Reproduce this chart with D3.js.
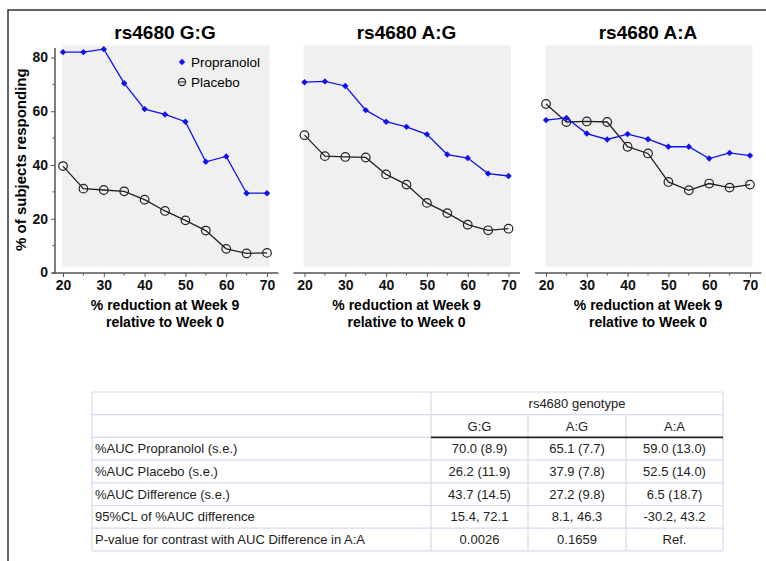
<!DOCTYPE html>
<html>
<head>
<meta charset="utf-8">
<script src="https://cdn.jsdelivr.net/npm/d3@7"></script>
<style>
  body { margin: 0; background: #fff; }
  svg { display: block; font-family: "Liberation Sans", Arial, sans-serif; }
</style>
</head>
<body>
<script>
// data
let thresholds = [20, 25, 30, 35, 40, 45, 50, 55, 60, 65, 70];
let genotypes = ["rs4680 G:G", "rs4680 A:G", "rs4680 A:A"];

let propGG = [82, 82, 83.1, 70.4, 60.8, 58.8, 56.1, 41.2, 43.2, 29.5, 29.5];
let placGG = [39.6, 31.2, 30.7, 30.2, 27.1, 22.9, 19.4, 15.6, 8.8, 7.1, 7.3];
let propAG = [70.8, 71.1, 69.4, 60.4, 56.1, 54.2, 51.4, 43.9, 42.6, 36.8, 35.9];
let placAG = [51.1, 43.3, 43.0, 42.8, 36.5, 32.7, 25.9, 22.1, 17.8, 15.7, 16.3];
let propAA = [56.7, 57.5, 51.7, 49.5, 51.5, 49.6, 46.8, 46.8, 42.4, 44.5, 43.5];
let placAA = [62.7, 56.0, 56.2, 56.0, 46.8, 44.3, 33.7, 30.6, 33.1, 31.6, 32.7];

let xTicks = [20, 30, 40, 50, 60, 70];
let yTicks = [0, 20, 40, 60, 80];

let tableRows = ["%AUC Propranolol (s.e.)", "%AUC Placebo (s.e.)", "%AUC Difference (s.e.)",
  "95%CL of %AUC difference", "P-value for contrast with AUC Difference in A:A"];
let tableCols = ["G:G", "A:G", "A:A"];
let colGG = ["70.0 (8.9)", "26.2 (11.9)", "43.7 (14.5)", "15.4, 72.1", "0.0026"];
let colAG = ["65.1 (7.7)", "37.9 (7.8)", "27.2 (9.8)", "8.1, 46.3", "0.1659"];
let colAA = ["59.0 (13.0)", "52.5 (14.0)", "6.5 (18.7)", "-30.2, 43.2", "Ref."];

let props = [propGG, propAG, propAA];
let placs = [placGG, placAG, placAA];
let cols = [colGG, colAG, colAA];

let width = 766, height = 561;
let svg = d3.select("body").append("svg")
  .attr("width", width).attr("height", height);

// outer frame (only top and left visible)
svg.append("path")
  .attr("d", `M8,${height} V10 H${width}`)
  .attr("fill", "none").attr("stroke", "#333").attr("stroke-width", 1.5);

let y = d3.scaleLinear().domain([0, 80]).range([272.5, 57.5]);
let blue = "#1010f0";
let diamond = d3.symbol(d3.symbolDiamond2, 26);

genotypes.forEach((name, i) => {
  let x0 = 63 + i * 241.5;
  let x = d3.scaleLinear().domain([20, 70]).range([x0, x0 + 204]);
  let g = svg.append("g");

  // gray plot background
  g.append("rect")
    .attr("x", x(19.8)).attr("y", y(84.5))
    .attr("width", x(70.6) - x(19.8)).attr("height", y(2.2) - y(84.5))
    .attr("fill", "#f0f0f0");

  // title
  g.append("text")
    .attr("x", (x(20) + x(70)) / 2).attr("y", 39)
    .attr("text-anchor", "middle")
    .attr("font-size", 19).attr("font-weight", "bold")
    .text(name);

  // x axis
  let xa = g.append("g").attr("transform", "translate(0,273)");
  xa.append("line")
    .attr("x1", x(17.3)).attr("x2", x(72.8))
    .attr("stroke", "#555").attr("stroke-width", 1.5);
  xa.call(d3.axisBottom(x).tickValues(xTicks).tickSize(4).tickSizeOuter(0).tickPadding(3))
    .call(a => a.select(".domain").remove())
    .call(a => a.selectAll("text").attr("font-size", 14).attr("font-weight", "bold")
      .attr("fill", "#111").attr("font-family", "Liberation Sans, Arial, sans-serif"))
    .call(a => a.selectAll("line").attr("stroke", "#555"));
  xa.selectAll(".minor").data([25, 35, 45, 55, 65]).join("line")
    .attr("x1", d => x(d)).attr("x2", d => x(d)).attr("y1", 0).attr("y2", 2.5)
    .attr("stroke", "#555");

  g.append("text")
    .attr("x", (x(20) + x(70)) / 2).attr("y", 310)
    .attr("text-anchor", "middle").attr("font-size", 14).attr("font-weight", "bold")
    .text("% reduction at Week 9");
  g.append("text")
    .attr("x", (x(20) + x(70)) / 2).attr("y", 327)
    .attr("text-anchor", "middle").attr("font-size", 14).attr("font-weight", "bold")
    .text("relative to Week 0");

  // y axis only on first panel
  if (i === 0) {
    let ya = g.append("g").attr("transform", "translate(55,0)");
    ya.append("line")
      .attr("y1", y(-0.3)).attr("y2", y(83.5))
      .attr("stroke", "#555").attr("stroke-width", 1.5);
    ya.call(d3.axisLeft(y).tickValues(yTicks).tickSize(4).tickSizeOuter(0).tickPadding(3))
      .call(a => a.select(".domain").remove())
      .call(a => a.selectAll("text").attr("font-size", 14).attr("font-weight", "bold")
        .attr("fill", "#111").attr("font-family", "Liberation Sans, Arial, sans-serif"))
      .call(a => a.selectAll("line").attr("stroke", "#555"));
    ya.selectAll(".minor").data([10, 30, 50, 70]).join("line")
      .attr("y1", d => y(d)).attr("y2", d => y(d)).attr("x1", 0).attr("x2", -2.5)
      .attr("stroke", "#555");

    g.append("text")
      .attr("transform", `translate(26,${y(42)}) rotate(-90)`)
      .attr("text-anchor", "middle").attr("font-size", 15).attr("font-weight", "bold")
      .text("% of subjects responding");
  }

  let line = d3.line().x((d, j) => x(thresholds[j])).y(d => y(d));

  // placebo
  g.append("path").datum(placs[i])
    .attr("d", line).attr("fill", "none")
    .attr("stroke", "#222").attr("stroke-width", 1.3);
  g.selectAll(".plc").data(placs[i]).join("circle")
    .attr("cx", (d, j) => x(thresholds[j])).attr("cy", d => y(d))
    .attr("r", 4.3).attr("fill", "none").attr("stroke", "#222").attr("stroke-width", 1.2);

  // propranolol
  g.append("path").datum(props[i])
    .attr("d", line).attr("fill", "none")
    .attr("stroke", blue).attr("stroke-width", 1.3);
  g.selectAll(".prp").data(props[i]).join("path")
    .attr("d", diamond)
    .attr("transform", (d, j) => `translate(${x(thresholds[j])},${y(d)})`)
    .attr("fill", blue);

  // legend in first panel
  if (i === 0) {
    let lg = g.append("g").attr("transform", "translate(182,62)");
    lg.append("path").attr("d", diamond).attr("fill", blue);
    lg.append("text").attr("x", 9).attr("y", 5).attr("font-size", 13.5).text("Propranolol");
    lg.append("circle").attr("cy", 20).attr("r", 3.6)
      .attr("fill", "none").attr("stroke", "#222").attr("stroke-width", 1.2);
    lg.append("line").attr("x1", -3).attr("x2", 3).attr("y1", 20).attr("y2", 20)
      .attr("stroke", "#222").attr("stroke-width", 1);
    lg.append("text").attr("x", 9).attr("y", 25).attr("font-size", 13.5).text("Placebo");
  }
});

// table
let tLeft = 92, tRight = 723, tTop = 392, rowH = 22.7;
let colX = [92, 431, 528, 626, 723];
let grid = "#d6daee";
let tg = svg.append("g").attr("font-size", 13).attr("fill", "#222");
let nRows = tableRows.length + 2;

// horizontal lines
tg.selectAll(".hl").data(d3.range(nRows + 1)).join("line")
  .attr("x1", tLeft).attr("x2", tRight)
  .attr("y1", d => tTop + d * rowH).attr("y2", d => tTop + d * rowH)
  .attr("stroke", grid).attr("stroke-width", 1.2);
// vertical lines
tg.append("line").attr("x1", tLeft).attr("x2", tLeft).attr("y1", tTop).attr("y2", tTop + nRows * rowH)
  .attr("stroke", grid).attr("stroke-width", 1.2);
tg.append("line").attr("x1", tRight).attr("x2", tRight).attr("y1", tTop).attr("y2", tTop + nRows * rowH)
  .attr("stroke", grid).attr("stroke-width", 1.2);
tg.append("line").attr("x1", colX[1]).attr("x2", colX[1]).attr("y1", tTop).attr("y2", tTop + nRows * rowH)
  .attr("stroke", grid).attr("stroke-width", 1.2);
[colX[2], colX[3]].forEach(cx => {
  tg.append("line").attr("x1", cx).attr("x2", cx).attr("y1", tTop + rowH).attr("y2", tTop + nRows * rowH)
    .attr("stroke", grid).attr("stroke-width", 1.2);
});
// thick rule under column headers
tg.append("line").attr("x1", colX[1]).attr("x2", tRight)
  .attr("y1", tTop + 2 * rowH).attr("y2", tTop + 2 * rowH)
  .attr("stroke", "#222").attr("stroke-width", 1.6);

tg.append("text").attr("x", (colX[1] + tRight) / 2).attr("y", tTop + rowH / 2 + 4.5)
  .attr("text-anchor", "middle").text("rs4680 genotype");
tableCols.forEach((c, k) => {
  tg.append("text").attr("x", (colX[k + 1] + colX[k + 2]) / 2).attr("y", tTop + 1.5 * rowH + 4.5)
    .attr("text-anchor", "middle").text(c);
});
tableRows.forEach((r, k) => {
  let ry = tTop + (k + 2.5) * rowH + 4.5;
  tg.append("text").attr("x", tLeft + 3).attr("y", ry).text(r);
  cols.forEach((col, c) => {
    tg.append("text").attr("x", (colX[c + 1] + colX[c + 2]) / 2).attr("y", ry)
      .attr("text-anchor", "middle").text(col[k]);
  });
});
</script>
</body>
</html>
